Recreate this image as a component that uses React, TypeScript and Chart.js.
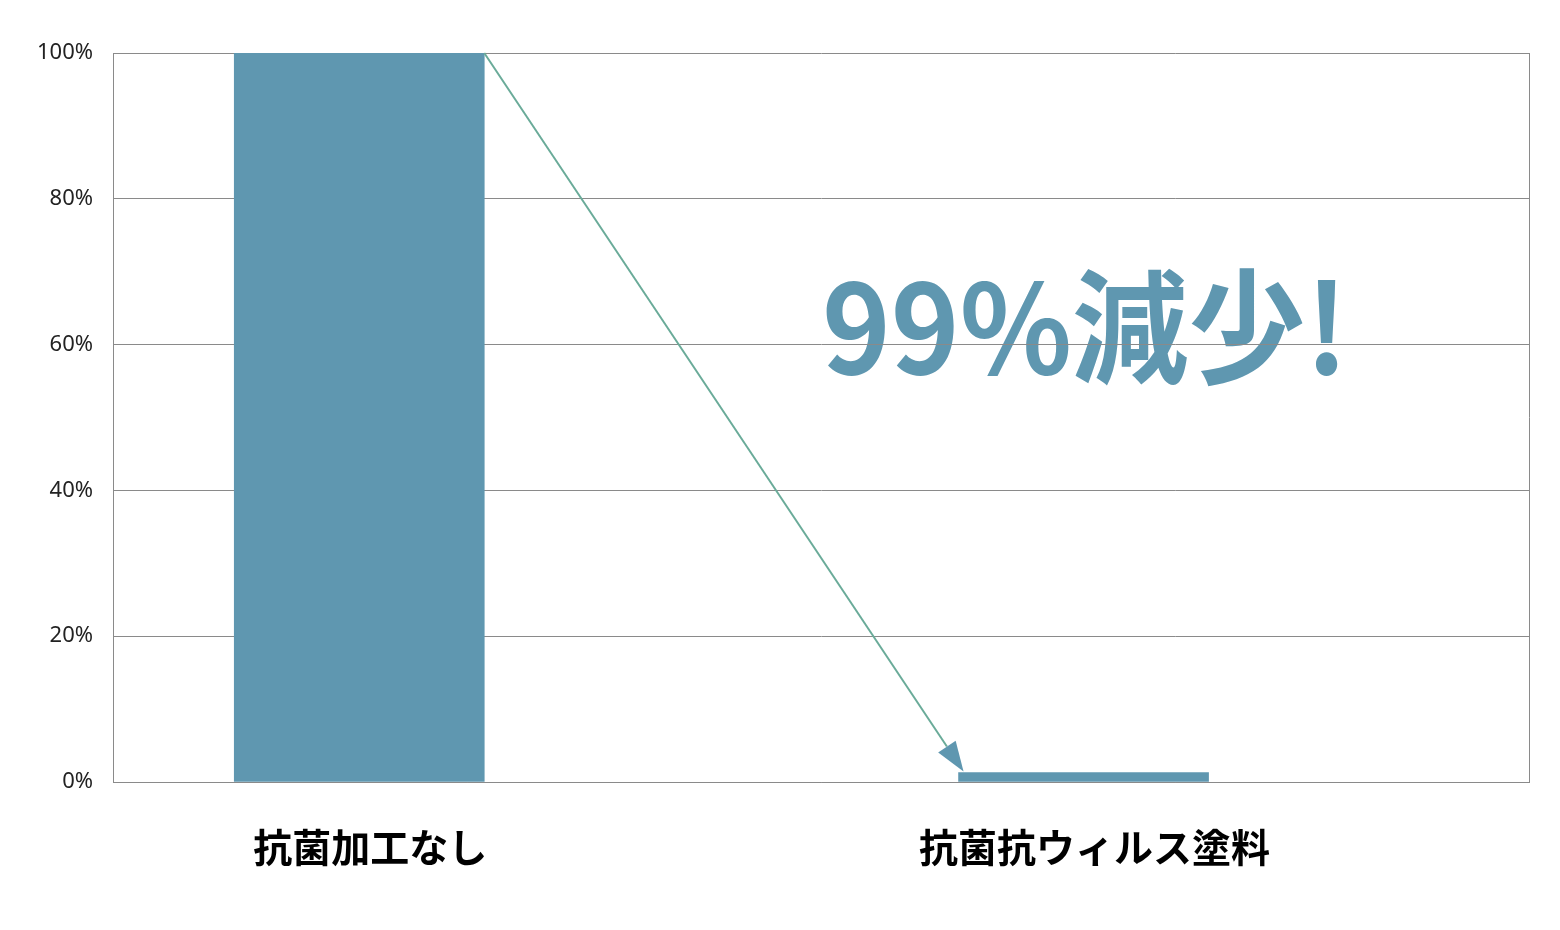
import React, { useEffect, useRef } from "react";
import { Chart, registerables } from "chart.js";

Chart.register(...registerables);

const categories = ["抗菌加工なし", "抗菌抗ウィルス塗料"];
const categoryPositions = [1, 2];
const values = [100, 1.3];
const yTicks = [0, 20, 40, 60, 80, 100];
const headline = "99%減少!";

const BAR_COLOR = "#5f97b0";
const ARROW_COLOR = "#6aab99";
const GRID_COLOR = "#8a8a8a";

const overlayPlugin = {
  id: "overlay",
  beforeDraw(chart: any) {
    const { ctx, scales } = chart;
    const x = scales.x.getPixelForValue(1.639);
    const y = scales.y.getPixelForValue(56.0);
    ctx.save();
    ctx.translate(x, y);
    ctx.scale(0.94, 1);
    ctx.fillStyle = BAR_COLOR;
    ctx.font = 'bold 124px "Noto Sans CJK JP", "Noto Sans", sans-serif';
    ctx.textAlign = "left";
    ctx.textBaseline = "alphabetic";
    ctx.fillText(headline, 0, 0);
    ctx.restore();
  },
  beforeDatasetsDraw(chart: any) {
    const { ctx, chartArea } = chart;
    ctx.save();
    ctx.strokeStyle = GRID_COLOR;
    ctx.lineWidth = 1;
    ctx.beginPath();
    ctx.moveTo(chartArea.right + 0.5, chartArea.top);
    ctx.lineTo(chartArea.right + 0.5, chartArea.bottom);
    ctx.stroke();
    ctx.restore();
  },
  afterDatasetsDraw(chart: any) {
    const { ctx } = chart;
    const meta = chart.getDatasetMeta(0);
    const b1: any = meta.data[0];
    const b2: any = meta.data[1];
    if (!b1 || !b2) return;
    const sx = b1.x + b1.width / 2;
    const sy = b1.y;
    const tx = b2.x - b2.width / 2 + 5;
    const ty = b2.y - 1;
    const dx = tx - sx;
    const dy = ty - sy;
    const len = Math.sqrt(dx * dx + dy * dy);
    const ux = dx / len;
    const uy = dy / len;
    const headLen = 30;
    const headHalf = 10.5;
    const bx = tx - ux * headLen;
    const by = ty - uy * headLen;
    ctx.save();
    ctx.strokeStyle = ARROW_COLOR;
    ctx.lineWidth = 2;
    ctx.beginPath();
    ctx.moveTo(sx, sy);
    ctx.lineTo(bx, by);
    ctx.stroke();
    ctx.fillStyle = BAR_COLOR;
    ctx.beginPath();
    ctx.moveTo(tx, ty);
    ctx.lineTo(bx - uy * headHalf, by + ux * headHalf);
    ctx.lineTo(bx + uy * headHalf, by - ux * headHalf);
    ctx.closePath();
    ctx.fill();
    ctx.restore();
  },
};

export default function App() {
  const ref = useRef<HTMLCanvasElement | null>(null);
  useEffect(() => {
    if (!ref.current) return;
    const chart = new Chart(ref.current, {
      type: "bar",
      data: {
        datasets: [
          {
            data: categoryPositions.map((p, i) => ({ x: p, y: values[i] })),
            backgroundColor: BAR_COLOR,
            borderWidth: 0,
            barThickness: 250,
          } as any,
        ],
      },
      plugins: [overlayPlugin],
      options: {
        animation: false,
        responsive: false,
        maintainAspectRatio: false,
        layout: { padding: { top: 53, right: 31, left: 0, bottom: 0 } },
        plugins: { legend: { display: false }, tooltip: { enabled: false } },
        scales: {
          x: {
            type: "linear",
            offset: false,
            min: 0.66,
            max: 2.615,
            afterFit(scale: any) {
              scale.height = 148;
            },
            afterBuildTicks(scale: any) {
              scale.ticks = categoryPositions.map((v) => ({ value: v }));
            },
            grid: { display: false, drawTicks: false, offset: false },
            border: { display: true, color: GRID_COLOR, width: 1 },
            ticks: {
              autoSkip: false,
              maxRotation: 0,
              padding: 42,
              labelOffset: 11,
              color: "#000",
              font: { family: '"Noto Sans CJK JP", sans-serif', size: 39, weight: "bold" },
              callback: (v: any) => {
                const i = categoryPositions.indexOf(Number(v));
                return i >= 0 ? categories[i] : "";
              },
            },
          },
          y: {
            min: 0,
            max: 100,
            afterFit(scale: any) {
              scale.width = 113;
            },
            afterBuildTicks(scale: any) {
              scale.ticks = yTicks.map((v) => ({ value: v }));
            },
            grid: { color: GRID_COLOR, lineWidth: 1, drawTicks: false },
            border: { display: true, color: GRID_COLOR, width: 1 },
            ticks: {
              padding: 20,
              color: "#222",
              font: { family: '"Noto Sans", sans-serif', size: 22 },
              callback: (v: any) => v + "%",
            },
          },
        },
      },
    });
    return () => chart.destroy();
  }, []);
  return (
    <div style={{ position: "fixed", left: 0, top: 0, width: 1560, height: 930, background: "#fff" }}>
      <canvas ref={ref} width={1560} height={930} style={{ width: 1560, height: 930 }} />
    </div>
  );
}
